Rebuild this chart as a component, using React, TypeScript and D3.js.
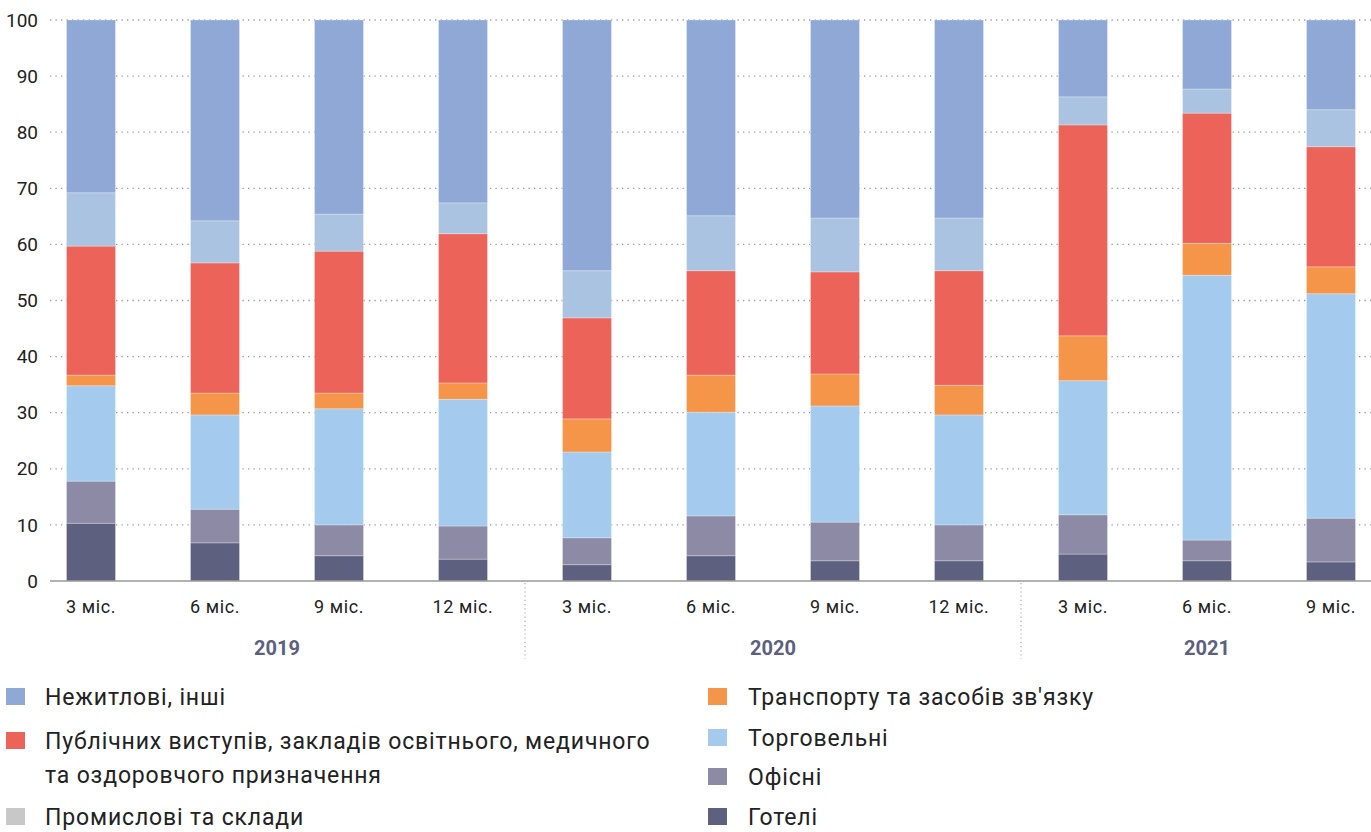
import React from "react";
import * as d3 from "d3";

// категорії по осі X
const periods = ["3 міс.", "6 міс.", "9 міс.", "12 міс.", "3 міс.", "6 міс.", "9 міс.", "12 міс.", "3 міс.", "6 міс.", "9 міс."];
const years = ["2019", "2019", "2019", "2019", "2020", "2020", "2020", "2020", "2021", "2021", "2021"];
const yTicks = [0, 10, 20, 30, 40, 50, 60, 70, 80, 90, 100];

// серії знизу вгору (%)
const hotels = [10.3, 6.8, 4.5, 3.9, 2.9, 4.5, 3.6, 3.6, 4.8, 3.6, 3.4];
const offices = [7.5, 6.0, 5.5, 5.9, 4.8, 7.1, 6.9, 6.4, 7.0, 3.7, 7.8];
const trade = [17.0, 16.8, 20.7, 22.6, 15.3, 18.5, 20.7, 19.6, 23.9, 47.2, 40.0];
const transport = [1.9, 3.9, 2.8, 2.9, 5.9, 6.6, 5.7, 5.3, 8.0, 5.7, 4.8];
const publicUse = [23.0, 23.2, 25.3, 26.6, 18.0, 18.6, 18.2, 20.4, 37.6, 23.2, 21.4];
const industrial = [9.5, 7.5, 6.6, 5.5, 8.4, 9.8, 9.6, 9.4, 5.0, 4.3, 6.6];
const other = [30.8, 35.8, 34.6, 32.6, 44.7, 34.9, 35.3, 35.3, 13.7, 12.3, 16.0];

const series = [
  { name: "Готелі", values: hotels, color: "#5e607f" },
  { name: "Офісні", values: offices, color: "#8c8aa4" },
  { name: "Торговельні", values: trade, color: "#a4cbee" },
  { name: "Транспорту та засобів зв'язку", values: transport, color: "#f4954a" },
  { name: "Публічних виступів", values: publicUse, color: "#ec635a" },
  { name: "Промислові та склади", values: industrial, color: "#a9c3e0" },
  { name: "Нежитлові, інші", values: other, color: "#8fa8d6" },
];

const legendLeft = [
  { lines: ["Нежитлові, інші"], color: "#8fa8d6" },
  { lines: ["Публічних виступів, закладів освітнього, медичного", "та оздоровчого призначення"], color: "#ec635a" },
  { lines: ["Промислові та склади"], color: "#c8c8c8" },
];
const legendRight = [
  { lines: ["Транспорту та засобів зв'язку"], color: "#f4954a" },
  { lines: ["Торговельні"], color: "#a4cbee" },
  { lines: ["Офісні"], color: "#8c8aa4" },
  { lines: ["Готелі"], color: "#5e607f" },
];

const W = 1371;
const H = 832;
const plotLeft = 50;
const plotRight = 1371;
const top = 20;
const bottom = 581;
const font = "Roboto, 'DejaVu Sans', sans-serif";

export default function App() {
  const idx = periods.map((_, i) => String(i));
  const x = d3.scaleBand().domain(idx).range([29, 1393]).paddingInner(0.605).paddingOuter(0.3025);
  const y = d3.scaleLinear().domain([0, 100]).range([bottom, top]);

  const stacked = d3
    .stack<number>()
    .keys(series.map((s) => s.name))
    .value((i, key) => series.find((s) => s.name === key)!.values[i])(d3.range(periods.length));

  // межі між роками
  const yearGroups = Array.from(d3.group(idx, (i) => years[+i]), ([year, ids]) => ({ year, ids }));
  const step = x.step();

  return (
    <svg width={W} height={H} style={{ position: "absolute", left: 0, top: 0 }} fontFamily={font}>
      {/* сітка */}
      {yTicks.map((t) => (
        <g key={t}>
          {t > 0 && (
            <line x1={plotLeft} x2={plotRight} y1={y(t)} y2={y(t)} stroke="#9a9a9a" strokeWidth={1.3} strokeDasharray="1.3 4.2" />
          )}
          <text x={38} y={y(t)} dy="0.35em" textAnchor="end" fontSize={19} fill="#222">
            {t}
          </text>
        </g>
      ))}

      {/* стовпці */}
      {stacked.map((layer, li) => (
        <g key={layer.key} fill={series[li].color}>
          {layer.map((d, i) => (
            <rect
              key={i}
              x={x(String(i))}
              width={x.bandwidth()}
              y={y(d[1])}
              height={y(d[0]) - y(d[1])}
              stroke="#ffffff"
              strokeOpacity={0.35}
              strokeWidth={0.8}
            />
          ))}
        </g>
      ))}

      <line x1={plotLeft} x2={plotRight} y1={bottom} y2={bottom} stroke="#999" strokeWidth={1.5} />

      {/* підписи періодів */}
      {periods.map((p, i) => (
        <text key={i} x={x(String(i))! + x.bandwidth() / 2} y={613} textAnchor="middle" fontSize={18} letterSpacing={0.6} fill="#222">
          {p}
        </text>
      ))}

      {/* роки та роздільники */}
      {yearGroups.map((g, gi) => {
        const first = x(g.ids[0])!;
        const last = x(g.ids[g.ids.length - 1])! + x.bandwidth();
        const cx = (first + last) / 2;
        const sep = first - (step - x.bandwidth()) / 2;
        return (
          <g key={g.year}>
            <text x={cx} y={655} textAnchor="middle" fontSize={20} fontWeight="bold" fill="#5c5f80">
              {g.year}
            </text>
            {gi > 0 && <line x1={sep} x2={sep} y1={bottom + 2} y2={659} stroke="#aaa" strokeWidth={1.2} strokeDasharray="1.2 3" />}
          </g>
        );
      })}

      {/* легенда */}
      {[
        { items: legendLeft, x0: 6, tx: 45, rows: [697, 741, 817] },
        { items: legendRight, x0: 708, tx: 748, rows: [697, 738, 777, 817] },
      ].map((col, ci) => (
        <g key={ci}>
          {col.items.map((it, k) => (
            <g key={k}>
              <rect x={col.x0} y={col.rows[k] - 9} width={19} height={17} fill={it.color} />
              {it.lines.map((ln, li) => (
                <text key={li} x={col.tx} y={col.rows[k] + li * 34} dy="0.35em" fontSize={23} letterSpacing={0.85} fill="#222">
                  {ln}
                </text>
              ))}
            </g>
          ))}
        </g>
      ))}
    </svg>
  );
}
